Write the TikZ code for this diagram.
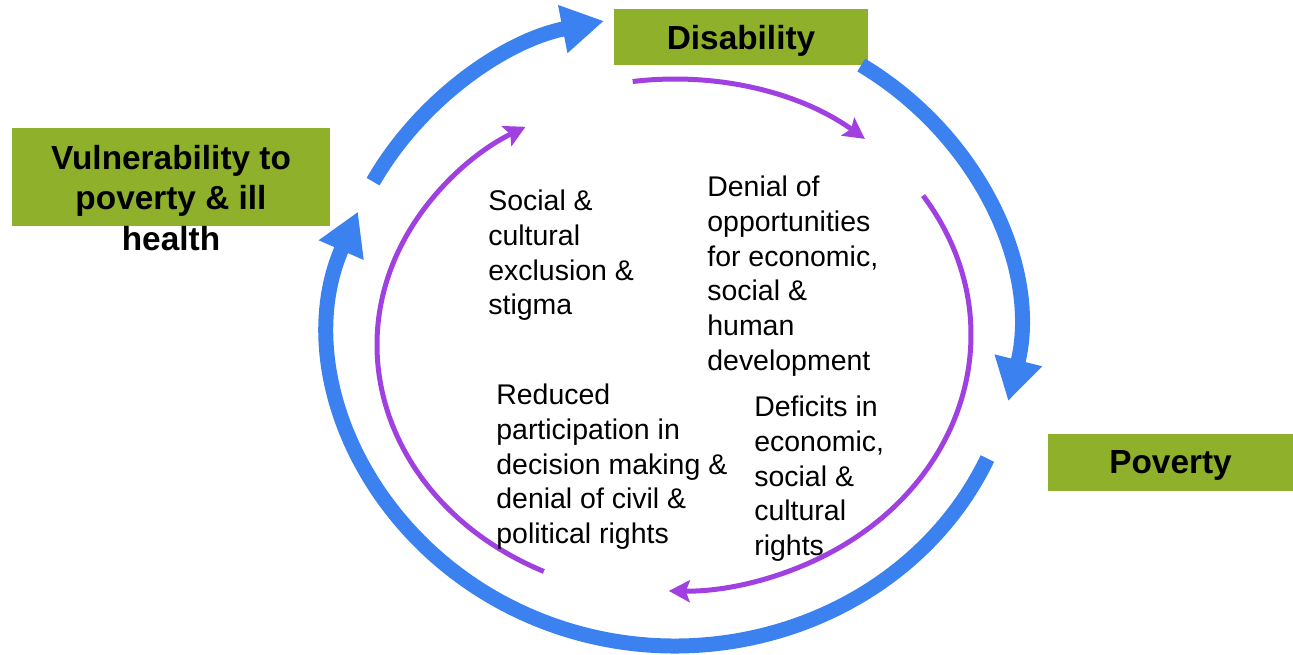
\documentclass[tikz,border=0pt]{standalone}
\usepackage{fontspec}
\setmainfont{Liberation Sans}
\usepackage{tikz}
\usetikzlibrary{calc,arrows.meta}
\usepackage{xcolor}

\definecolor{cycleblue}{RGB}{59,130,240}
\definecolor{cyclepurple}{RGB}{160,64,224}
\definecolor{boxgreen}{RGB}{143,176,42}

\tikzset{
  greenbox/.style={fill=boxgreen, inner sep=0pt, text depth=0pt, font=\bfseries\fontsize{19}{23}\selectfont},
  boldlabel/.style={align=center, inner sep=0pt, font=\bfseries\fontsize{19}{23}\selectfont},
  note/.style={align=left, inner sep=0pt, anchor=north west, font=\fontsize{16.2}{19.7}\selectfont},
  bluearc/.style={cycleblue, line width=0.3cm, -{Triangle[length=0.84cm, width=0.92cm]}},
  purplearc/.style={cyclepurple, line width=0.1cm, -{Stealth[length=0.42cm, width=0.44cm, inset=0.08cm]}}
}

\begin{document}
\begin{tikzpicture}[x=0.02cm, y=0.02cm]
  \useasboundingbox (0,0) rectangle (1293,654);

  % Boxes
  \node[greenbox, minimum width=5.08cm, minimum height=1.14cm] (disability) at (741,617) {Disability};
  \node[greenbox, minimum width=4.9cm, minimum height=1.14cm] (poverty) at (1170.5,191.5) {Poverty};
  \node[greenbox, minimum width=6.36cm, minimum height=1.96cm] (vulbox) at (171,477) {};
  \node[boldlabel, anchor=north] (vultext) at (171,509) {Vulnerability to\\poverty \& ill\\health};

  % Centres of the rings
  \coordinate (bluering) at (675,324);
  \coordinate (purplering) at (674,319);
  \coordinate (purpleleft) at (674,309);

  % Outer cycle
  \coordinate (b1) at ($(bluering)+(152:6.84cm and 6.32cm)$);
  \coordinate (b2) at ($(bluering)+(57:6.84cm and 6.32cm)$);
  \coordinate (b3) at ($(bluering)+(-24:6.84cm and 6.32cm)$);
  \draw[bluearc] (b1) arc[start angle=152, end angle=102, x radius=6.84cm, y radius=6.32cm];
  \draw[bluearc] (b2) arc[start angle=57, end angle=-13, x radius=6.84cm, y radius=6.32cm];
  \draw[bluearc] (b3) arc[start angle=-24, end angle=-202, x radius=6.84cm, y radius=6.32cm];

  % Inner cycle
  \coordinate (p1) at ($(purplering)+(98:5.94cm and 5.12cm)$);
  \coordinate (p2) at ($(purplering)+(33:5.94cm and 5.12cm)$);
  \coordinate (p3) at ($(purpleleft)+(-116:5.94cm and 5.04cm)$);
  \draw[purplearc] (p1) arc[start angle=98, end angle=50, x radius=5.94cm, y radius=5.12cm];
  \draw[purplearc] (p2) arc[start angle=33, end angle=-91, x radius=5.94cm, y radius=5.12cm];
  \draw[purplearc] (p3) arc[start angle=-116, end angle=-240, x radius=5.94cm, y radius=5.04cm];

  % Labels inside the cycle
  \node[note] (exclusion) at (488,464) {Social \&\\cultural\\exclusion \&\\stigma};
  \node[note] (denial) at (707,478) {Denial of\\opportunities\\for economic,\\social \&\\human\\development};
  \node[note] (participation) at (496,270) {Reduced\\participation in\\decision making \&\\denial of civil \&\\political rights};
  \node[note] (deficits) at (754,258) {Deficits in\\economic,\\social \&\\cultural\\rights};
\end{tikzpicture}
\end{document}
